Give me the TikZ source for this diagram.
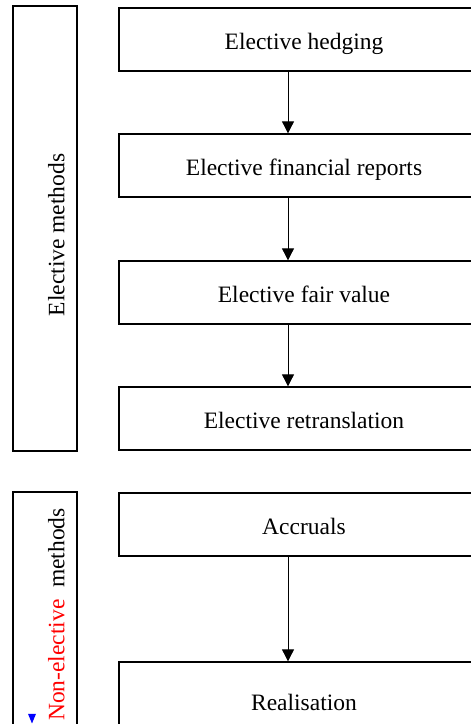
\documentclass[tikz,border=0pt]{standalone}
\usepackage{fontspec}
\setmainfont{Liberation Serif}
\usetikzlibrary{positioning,arrows.meta,calc,shapes.geometric}

\begin{document}
\begin{tikzpicture}[
    x=1pt, y=-1pt,
    % Estilos dos nós
    every node/.style={font=\fontsize{23.5}{28}\selectfont,
                       text height=23pt, text depth=2.4pt},
    stepbox/.style={draw, rectangle, line width=1.3pt, fill=white,
                    minimum width=370pt, minimum height=63pt, inner sep=0pt},
    groupbox/.style={draw, rectangle, line width=1.3pt,
                     minimum width=64pt, inner sep=0pt},
    grouplabel/.style={rotate=90, inner sep=0pt},
    flow/.style={draw, line width=0.8pt, -{Triangle[length=12pt, width=12pt]}}
]
\clip (0,0) rectangle (471,724);

% Grupos à esquerda
\node[groupbox, minimum height=445pt] (elective) at (45,228.5) {};
\node[grouplabel] (elective_lbl) at (54,235) {Elective methods};

\node[groupbox, minimum height=320pt] (nonelective) at (45,652) {};
\node[grouplabel] (nonelective_lbl) at (54,614.5)
    {\textcolor{red}{Non-elective}\ \ methods};
\node[fill=blue, isosceles triangle, shape border rotate=-90, inner sep=0pt,
      minimum size=8pt, text height=, text depth=] (marker) at (32,716.5) {};

% Métodos eletivos
\node[stepbox] (hedging) at (304,39.5) {Elective hedging};
\node[stepbox] (finrep) at (304,165.5) {Elective financial reports};
\node[stepbox] (fairval) at (304,292.5) {Elective fair value};
\node[stepbox] (retrans) at (304,418.5) {Elective retranslation};

% Métodos não eletivos
\node[stepbox] (accruals) at (304,524.5) {Accruals};
\node[stepbox, minimum height=76pt] (realis) at (304,700) {Realisation};

% Setas
\coordinate (arrx) at (288,0);
\draw[flow] (hedging.south -| arrx) -- (finrep.north -| arrx);
\draw[flow] (finrep.south -| arrx) -- (fairval.north -| arrx);
\draw[flow] (fairval.south -| arrx) -- (retrans.north -| arrx);
\draw[flow] (accruals.south -| arrx) -- (realis.north -| arrx);

\end{tikzpicture}
\end{document}
